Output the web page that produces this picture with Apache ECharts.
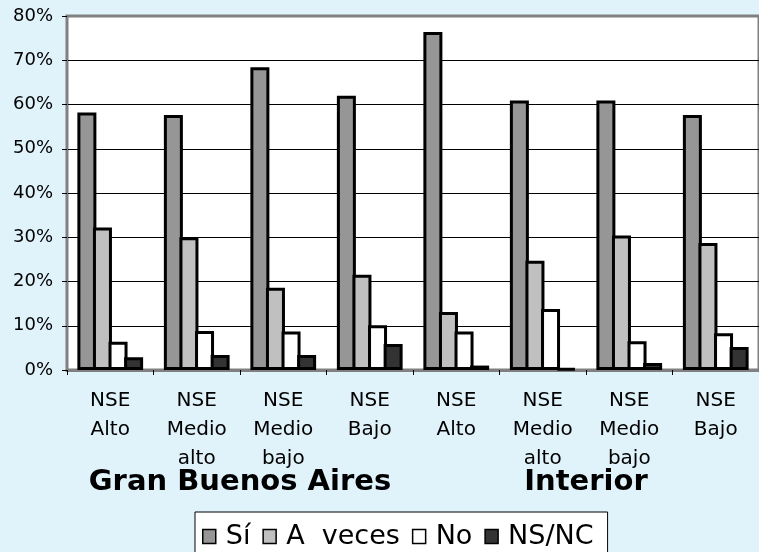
<!DOCTYPE html>
<html>
<head>
<meta charset="utf-8">
<script src="https://cdn.jsdelivr.net/npm/echarts/dist/echarts.min.js"></script>
<style>
  html, body { margin: 0; padding: 0; background: #e0f2fa; }
  #main { width: 759px; height: 552px; }
</style>
</head>
<body>
<div id="main"></div>
<script>
// categorias y valores (%)
var categorias = ['NSE\nAlto', 'NSE\nMedio\nalto', 'NSE\nMedio\nbajo', 'NSE\nBajo',
                  'NSE\nAlto', 'NSE\nMedio\nalto', 'NSE\nMedio\nbajo', 'NSE\nBajo'];
var regiones = ['Gran Buenos Aires', 'Interior'];
var si = [58.2, 57.6, 68.4, 62, 76.4, 60.9, 60.9, 57.6];
var aVeces = [32.2, 30, 18.6, 21.5, 13.1, 24.7, 30.4, 28.7];
var no = [6.4, 8.8, 8.7, 10.1, 8.7, 13.8, 6.5, 8.3];
var nsnc = [2.9, 3.4, 3.4, 5.9, 1.0, 0.3, 1.6, 5.2];

var myChart = echarts.init(document.getElementById('main'));

function barra(nombre, datos, color) {
  return {
    name: nombre,
    type: 'bar',
    data: datos,
    barWidth: 19,
    barGap: '-18%',
    itemStyle: {
      color: color,
      borderColor: '#000',
      borderWidth: 3
    }
  };
}

myChart.setOption({
  animation: false,
  backgroundColor: '#e0f2fa',
  textStyle: { fontFamily: 'DejaVu Sans' },
  grid: {
    left: 67,
    right: -2,
    top: 16,
    bottom: 182,
    show: true,
    backgroundColor: '#fff',
    borderColor: '#808080',
    borderWidth: 3
  },
  legend: {
    left: 195,
    top: 512,
    padding: [11, 14, 20, 7],
    itemWidth: 13,
    itemHeight: 14,
    itemGap: 12,
    backgroundColor: '#fff',
    borderColor: '#000',
    borderWidth: 1,
    borderRadius: 0,
    icon: 'rect',
    itemStyle: { borderWidth: 1.5, borderColor: '#000' },
    textStyle: { fontSize: 27, color: '#000', padding: [0, 0, 0, 5] },
    data: ['Sí', 'A  veces', 'No', 'NS/NC']
  },
  xAxis: [
    {
      type: 'category',
      data: categorias,
      axisLine: { show: true, lineStyle: { color: '#808080', width: 3 } },
      axisTick: { show: true, length: 5, lineStyle: { color: '#000' } },
      axisLabel: {
        interval: 0,
        margin: 16,
        fontSize: 20,
        lineHeight: 29,
        color: '#000'
      }
    },
    {
      type: 'category',
      position: 'bottom',
      data: regiones,
      axisLine: { show: false },
      axisTick: { show: false },
      axisLabel: {
        interval: 0,
        margin: 98,
        fontSize: 29,
        lineHeight: 29,
        fontWeight: 'bold',
        color: '#000'
      }
    }
  ],
  yAxis: {
    type: 'value',
    min: 0,
    max: 80,
    interval: 10,
    axisLine: { show: true, lineStyle: { color: '#808080', width: 2 } },
    axisTick: { show: true, length: 5, lineStyle: { color: '#000' } },
    axisLabel: { formatter: '{value}%', fontSize: 18, color: '#000', margin: 14 },
    splitLine: {
      show: true,
      lineStyle: {
        color: ['#000', '#000', '#000', '#000', '#000', '#000', '#000', '#000', '#808080'],
        width: 1
      }
    }
  },
  series: [
    barra('Sí', si, '#969696'),
    barra('A  veces', aVeces, '#c0c0c0'),
    barra('No', no, '#ffffff'),
    barra('NS/NC', nsnc, '#333333')
  ]
});
</script>
</body>
</html>
